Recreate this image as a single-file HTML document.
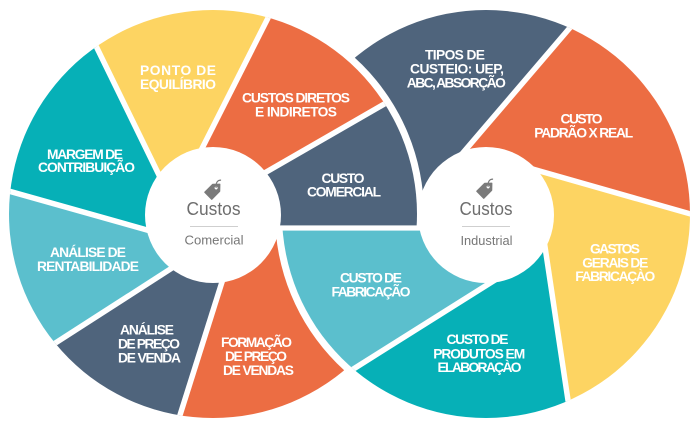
<!DOCTYPE html>
<html>
<head>
<meta charset="utf-8">
<style>
html,body{margin:0;padding:0;background:#fff;width:700px;height:430px;overflow:hidden;}
svg{display:block;overflow:hidden;}
.l{font-family:"Liberation Sans",Arial,sans-serif;font-weight:bold;font-size:13.8px;fill:#fff;}
.h1{font-family:"Liberation Sans",Arial,sans-serif;font-size:18px;fill:#6e6e6e;}
.h2{font-family:"Liberation Sans",Arial,sans-serif;font-size:12.5px;fill:#777;}
</style>
</head>
<body>
<svg width="700" height="430" viewBox="0 0 700 430" xmlns="http://www.w3.org/2000/svg">
<defs>
  <clipPath id="cl"><circle cx="213" cy="214" r="204"/></clipPath>
  <clipPath id="cr"><circle cx="486" cy="214" r="204"/></clipPath>
  <clipPath id="ctop"><rect x="0" y="0" width="700" height="228"/></clipPath>
  <clipPath id="cbot"><rect x="0" y="228" width="700" height="202"/></clipPath>
  <g id="LW">
    <g clip-path="url(#cl)">
      <polygon fill="#4F647C" points="255,178.5 391.6,99.8 417.8,159.1 425,228 270,228"/>
      <polygon fill="#EC6D43" points="270,228 425,228 412.2,286.5 375.4,350.3 319,397.6 249.8,422.8 177.5,423 225,272.5"/>
      <polygon fill="#4F647C" points="225,272.5 177.5,423 107,397.6 48.3,347.6 180.4,262.6"/>
      <polygon fill="#5BBFCD" points="180.4,262.6 48.3,347.6 20.9,303.6 3.1,243.5 2.5,189.3 156.6,232.7"/>
      <polygon fill="#06B0B7" points="156.6,232.7 2.5,189.3 17.9,131.2 50.6,77.7 92.8,39.4 162.4,182"/>
      <polygon fill="#FDD462" points="162.4,182 92.8,39.4 147.5,12.4 213,2 271.9,10.3 196,160.4"/>
      <polygon fill="#EC6D43" points="196,160.4 271.9,10.3 337.6,42.5 391.6,99.8 255,178.5"/>
      <g stroke="#fff" stroke-width="5.5">
        <line x1="255" y1="178.5" x2="391.6" y2="99.8"/>
        <line x1="196" y1="160.4" x2="271.9" y2="10.3"/>
        <line x1="162.4" y1="182" x2="92.8" y2="39.4"/>
        <line x1="156.6" y1="232.7" x2="2.5" y2="189.3"/>
        <line x1="180.4" y1="262.6" x2="48.3" y2="347.6"/>
        <line x1="225" y1="272.5" x2="177.5" y2="423"/>
      </g>
    </g>
  </g>
  <g id="RW">
    <g clip-path="url(#cr)">
      <polygon fill="#4F647C" points="430,228 274.5,228 281.2,159.1 312.3,92.4 364.4,40.3 431.1,9.2 504.5,2.8 575.2,21.6 457.3,159.4"/>
      <polygon fill="#EC6D43" points="457.3,159.4 575.2,21.6 627.9,56.5 669.6,108 692.6,166.3 698,216.1 528.6,167.9"/>
      <polygon fill="#FDD462" points="528.6,167.9 698,216.1 687.6,279.5 659.7,335.6 619.4,378.7 569.3,408.9 542.8,232.2"/>
      <polygon fill="#06B0B7" points="542.8,232.2 569.3,408.9 504.5,425.2 449.2,422.8 393.1,404.5 346.3,373.5 499.7,277"/>
      <polygon fill="#5BBFCD" points="499.7,277 346.3,373.5 310.3,332.5 284.4,279.5 274.5,228 430,228"/>
      <g stroke="#fff" stroke-width="5.5">
        <line x1="457.3" y1="159.4" x2="575.2" y2="21.6"/>
        <line x1="528.6" y1="167.9" x2="698" y2="216.1"/>
        <line x1="542.8" y1="232.2" x2="569.3" y2="408.9"/>
        <line x1="499.7" y1="277" x2="346.3" y2="373.5"/>
      </g>
    </g>
  </g>
</defs>

<!-- bottom half: right wheel on top -->
<g clip-path="url(#cbot)">
  <use href="#LW"/>
  <circle cx="486" cy="214" r="211" fill="#fff"/>
  <use href="#RW"/>
</g>
<!-- top half: left wheel on top -->
<g clip-path="url(#ctop)">
  <use href="#RW"/>
  <circle cx="213" cy="214" r="211" fill="#fff"/>
  <use href="#LW"/>
</g>

<!-- horizontal gap between wheels -->
<rect x="270" y="225.4" width="160" height="5.2" fill="#fff"/>

<!-- hubs -->
<circle cx="213" cy="215" r="68" fill="#fff"/>
<circle cx="486" cy="215" r="68" fill="#fff"/>

<!-- left hub content -->
<g transform="translate(214,190) rotate(-45)">
  <path d="M-8,-4.8 L3,-4.8 L8,0 L3,4.8 L-8,4.8 Z" fill="#7a7a7a" stroke="#7a7a7a" stroke-width="1.5" stroke-linejoin="round"/>
  <circle cx="3" cy="0" r="1.5" fill="#fff"/>
  <path d="M3,0 Q8,-6 12,-2" stroke="#7a7a7a" stroke-width="1.2" fill="none"/>
</g>
<text class="h1" x="213.5" y="215" text-anchor="middle" textLength="54" lengthAdjust="spacingAndGlyphs">Custos</text>
<line x1="190" y1="226.5" x2="238" y2="226.5" stroke="#cfcfcf" stroke-width="1"/>
<text class="h2" x="214" y="244.5" text-anchor="middle" textLength="59" lengthAdjust="spacingAndGlyphs">Comercial</text>

<!-- right hub content -->
<g transform="translate(486,189) rotate(-45)">
  <path d="M-8,-4.8 L3,-4.8 L8,0 L3,4.8 L-8,4.8 Z" fill="#7a7a7a" stroke="#7a7a7a" stroke-width="1.5" stroke-linejoin="round"/>
  <circle cx="3" cy="0" r="1.5" fill="#fff"/>
  <path d="M3,0 Q8,-6 12,-2" stroke="#7a7a7a" stroke-width="1.2" fill="none"/>
</g>
<text class="h1" x="486" y="215" text-anchor="middle" textLength="53" lengthAdjust="spacingAndGlyphs">Custos</text>
<line x1="462" y1="226.5" x2="510" y2="226.5" stroke="#cfcfcf" stroke-width="1"/>
<text class="h2" x="486.5" y="245" text-anchor="middle" textLength="52" lengthAdjust="spacingAndGlyphs">Industrial</text>

<!-- labels -->
<g class="l" text-anchor="middle" lengthAdjust="spacingAndGlyphs">
  <text x="178" y="75" textLength="76">PONTO DE</text>
  <text x="178" y="89" textLength="76">EQUILÍBRIO</text>

  <text x="296" y="102.7" textLength="108">CUSTOS DIRETOS</text>
  <text x="296" y="116.5" textLength="82">E INDIRETOS</text>

  <text x="85" y="159" textLength="76">MARGEM DE</text>
  <text x="86.5" y="172" textLength="97">CONTRIBUIÇÃO</text>

  <text x="88" y="257" textLength="76">ANÁLISE DE</text>
  <text x="88" y="271" textLength="102">RENTABILIDADE</text>

  <text x="147" y="334.3" textLength="54">ANÁLISE</text>
  <text x="149" y="348.3" textLength="62">DE PREÇO</text>
  <text x="149.5" y="362.7" textLength="63">DE VENDA</text>

  <text x="256.5" y="347" textLength="71">FORMAÇÃO</text>
  <text x="256" y="361" textLength="62">DE PREÇO</text>
  <text x="258.5" y="375" textLength="71">DE VENDAS</text>

  <text x="343" y="183" textLength="43">CUSTO</text>
  <text x="344" y="196.7" textLength="74">COMERCIAL</text>

  <text x="371" y="282.7" textLength="62">CUSTO DE</text>
  <text x="371" y="296.5" textLength="79">FABRICAÇÃO</text>

  <text x="455" y="59.3" textLength="60">TIPOS DE</text>
  <text x="457" y="73.3" textLength="94">CUSTEIO: UEP,</text>
  <text x="456.3" y="87.3" textLength="99">ABC, ABSORÇÃO</text>

  <text x="581.5" y="123.3" textLength="42">CUSTO</text>
  <text x="583.7" y="137.7" textLength="99">PADRÃO X REAL</text>

  <text x="615" y="253.3" textLength="50">GASTOS</text>
  <text x="615.3" y="267.3" textLength="66">GERAIS DE</text>
  <text x="615.2" y="281" textLength="80">FABRICAÇÀO</text>

  <text x="477.5" y="344" textLength="62">CUSTO DE</text>
  <text x="479.2" y="358.3" textLength="92">PRODUTOS EM</text>
  <text x="479.5" y="372" textLength="84">ELABORAÇÀO</text>
</g>
</svg>
</body>
</html>
